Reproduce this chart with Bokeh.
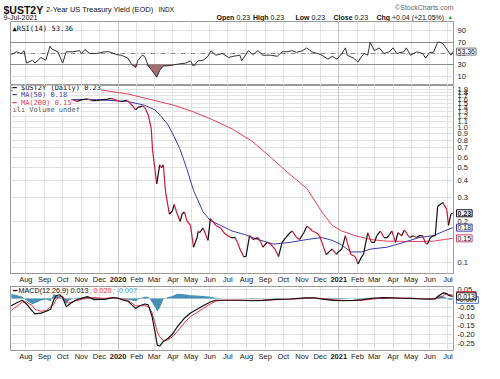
import pandas as pd
from bokeh.plotting import figure
from bokeh.layouts import column, row
from bokeh.models import (Range1d, FixedTicker, Grid, Label, ColumnDataSource, DatetimeAxis)
from bokeh.core.properties import value
from bokeh.embed import file_html
from bokeh.resources import INLINE

# ---------------- data ----------------
price_dates = ["2019-07-08","2019-07-15","2019-07-24","2019-08-02","2019-08-12","2019-08-19","2019-08-28",
 "2019-09-06","2019-09-13","2019-09-23","2019-09-27","2019-10-03","2019-10-09","2019-10-17","2019-10-25",
 "2019-11-01","2019-11-11","2019-11-19","2019-11-26","2019-12-04","2019-12-12","2019-12-20","2019-12-30",
 "2020-01-06","2020-01-14","2020-01-17","2020-01-24","2020-01-30","2020-02-03","2020-02-10","2020-02-14",
 "2020-02-20","2020-02-25","2020-02-27","2020-03-02","2020-03-05","2020-03-10","2020-03-13","2020-03-16",
 "2020-03-18","2020-03-20","2020-03-26","2020-03-31","2020-04-03","2020-04-08","2020-04-13","2020-04-16",
 "2020-04-20","2020-04-24","2020-04-30","2020-05-05","2020-05-11","2020-05-13","2020-05-15","2020-05-21",
 "2020-05-26","2020-05-29","2020-06-02","2020-06-05","2020-06-11","2020-06-19","2020-06-26","2020-07-06",
 "2020-07-13","2020-07-17","2020-07-21","2020-07-27","2020-07-31","2020-08-06","2020-08-12","2020-08-20",
 "2020-08-25","2020-08-28","2020-09-04","2020-09-10","2020-09-17","2020-09-23","2020-09-29","2020-10-05",
 "2020-10-12","2020-10-16","2020-10-23","2020-10-28","2020-11-04","2020-11-09","2020-11-13","2020-11-18",
 "2020-11-25","2020-11-30","2020-12-04","2020-12-11","2020-12-16","2020-12-21","2020-12-28","2020-12-31",
 "2021-01-06","2021-01-12","2021-01-15","2021-01-21","2021-01-28","2021-02-02","2021-02-08","2021-02-11",
 "2021-02-18","2021-02-24","2021-03-01","2021-03-05","2021-03-11","2021-03-17","2021-03-22","2021-03-26",
 "2021-03-30","2021-04-05","2021-04-09","2021-04-15","2021-04-20","2021-04-26","2021-04-29","2021-05-04",
 "2021-05-10","2021-05-14","2021-05-20","2021-05-25","2021-05-28","2021-06-02","2021-06-07","2021-06-10",
 "2021-06-14","2021-06-18","2021-06-23","2021-06-25","2021-06-29","2021-07-02","2021-07-06","2021-07-09"]
price_vals = [1.87,1.82,1.84,1.72,1.62,1.55,1.50,
 1.56,1.78,1.70,1.63,1.38,1.53,1.60,1.55,
 1.59,1.62,1.57,1.57,1.59,1.60,1.63,1.58,
 1.54,1.58,1.56,1.45,1.34,1.40,1.43,1.40,
 1.23,0.97,0.68,0.49,0.38,0.525,0.50,0.525,
 0.40,0.324,0.227,0.239,0.267,0.227,0.200,0.227,
 0.235,0.203,0.187,0.129,0.152,0.170,0.165,0.179,
 0.157,0.145,0.210,0.203,0.187,0.179,0.162,0.152,
 0.152,0.140,0.125,0.110,0.110,0.157,0.147,0.152,
 0.140,0.129,0.140,0.136,0.125,0.110,0.140,0.152,
 0.165,0.170,0.152,0.147,0.165,0.184,0.179,0.170,
 0.165,0.157,0.140,0.114,0.119,0.125,0.114,0.119,
 0.125,0.157,0.140,0.114,0.110,0.097,0.110,0.114,
 0.165,0.140,0.140,0.157,0.170,0.152,0.152,0.160,
 0.170,0.140,0.165,0.157,0.173,0.157,0.152,0.157,
 0.152,0.157,0.157,0.138,0.136,0.152,0.157,0.157,
 0.259,0.267,0.276,0.263,0.246,0.187,0.227,0.23]

ma50_dates = ["2019-07-08","2019-08-01","2019-08-28","2019-09-27","2019-11-26","2020-01-17","2020-02-14",
 "2020-03-02","2020-03-13","2020-03-23","2020-04-03","2020-04-13","2020-04-24","2020-05-05","2020-05-21",
 "2020-06-02","2020-06-19","2020-07-08","2020-07-29","2020-08-20","2020-09-15","2020-10-12","2020-11-09",
 "2020-12-04","2020-12-21","2021-01-06","2021-01-21","2021-02-08","2021-02-23","2021-03-22","2021-04-19",
 "2021-05-14","2021-06-07","2021-06-25","2021-07-09"]
ma50_vals = [1.95,1.88,1.70,1.60,1.595,1.545,1.45,
 1.34,1.19,1.05,0.85,0.68,0.49,0.34,0.235,
 0.203,0.187,0.170,0.160,0.147,0.136,0.140,0.147,
 0.152,0.145,0.134,0.119,0.119,0.125,0.129,0.140,
 0.152,0.157,0.170,0.18]

ma200_dates = ["2019-07-08","2019-08-15","2019-10-09","2019-11-26","2020-01-17","2020-03-02","2020-04-03",
 "2020-05-05","2020-06-05","2020-07-08","2020-08-10","2020-09-10","2020-10-08","2020-11-09","2020-12-04",
 "2020-12-21","2021-01-06","2021-01-28","2021-02-23","2021-03-22","2021-05-14","2021-06-07","2021-06-25",
 "2021-07-09"]
ma200_vals = [2.30,2.20,2.03,1.905,1.757,1.57,1.448,
 1.294,1.137,0.968,0.786,0.597,0.462,0.351,0.235,
 0.187,0.170,0.157,0.147,0.143,0.142,0.143,0.147,
 0.15]

rsi_dates = ["2019-07-08","2019-07-16","2019-07-24","2019-07-29","2019-08-02","2019-08-12","2019-08-16",
 "2019-08-26","2019-09-03","2019-09-10","2019-09-13","2019-09-23","2019-10-01","2019-10-07","2019-10-17",
 "2019-10-29","2019-11-01","2019-11-07","2019-11-15","2019-11-26","2019-12-09","2019-12-17","2019-12-30",
 "2020-01-06","2020-01-17","2020-01-24","2020-01-30","2020-02-03","2020-02-10","2020-02-14","2020-02-20",
 "2020-02-26","2020-03-05","2020-03-10","2020-03-16","2020-03-23","2020-04-03","2020-04-14","2020-04-22",
 "2020-04-30","2020-05-05","2020-05-13","2020-05-21","2020-05-29","2020-06-03","2020-06-11","2020-06-22",
 "2020-07-02","2020-07-10","2020-07-21","2020-07-24","2020-08-04","2020-08-12","2020-08-20","2020-08-28",
 "2020-09-10","2020-09-21","2020-09-29","2020-10-07","2020-10-15","2020-10-23","2020-11-02","2020-11-09",
 "2020-11-17","2020-11-27","2020-12-04","2020-12-14","2020-12-21","2020-12-29","2021-01-06","2021-01-12",
 "2021-01-15","2021-01-25","2021-02-02","2021-02-08","2021-02-12","2021-02-18","2021-02-22","2021-03-01",
 "2021-03-09","2021-03-17","2021-03-26","2021-04-01","2021-04-07","2021-04-19","2021-04-23","2021-04-30",
 "2021-05-10","2021-05-20","2021-05-25","2021-06-01","2021-06-07","2021-06-14","2021-06-18","2021-06-23",
 "2021-06-29","2021-07-06","2021-07-09"]
rsi_vals = [48,53,50,55,33,38,33,
 43,38,63,58,53,33,53,53,
 55,50,57,50,50,53,53,48,
 47,42,30,25,38,47,45,28,
 20,8,20,28,28,30,32,33,
 37,28,37,38,45,55,47,50,
 43,45,47,37,55,48,55,47,
 47,45,53,53,55,52,55,60,
 53,50,47,40,45,40,50,60,
 47,42,35,45,50,47,70,55,
 60,50,53,60,50,53,60,47,
 53,50,42,52,52,70,70,67,
 58,47,53.36]

macd_dates = ["2019-07-08","2019-07-16","2019-07-26","2019-08-02","2019-08-12","2019-08-16","2019-08-26",
 "2019-09-04","2019-09-11","2019-09-16","2019-09-20","2019-09-26","2019-10-01","2019-10-07","2019-10-11",
 "2019-10-22","2019-11-01","2019-11-11","2019-11-22","2019-12-09","2019-12-24","2020-01-02","2020-01-10",
 "2020-01-17","2020-01-30","2020-02-06","2020-02-14","2020-02-20","2020-02-26","2020-03-02","2020-03-06",
 "2020-03-10","2020-03-16","2020-03-23","2020-03-31","2020-04-08","2020-04-20","2020-04-30","2020-05-11",
 "2020-05-21","2020-06-02","2020-06-11","2020-06-22","2020-07-08","2020-07-24","2020-08-10","2020-08-28",
 "2020-09-18","2020-10-12","2020-11-05","2020-11-20","2020-12-08","2020-12-23","2021-01-08","2021-01-25",
 "2021-02-10","2021-02-26","2021-03-15","2021-03-30","2021-04-15","2021-04-30","2021-05-17","2021-06-02",
 "2021-06-10","2021-06-15","2021-06-21","2021-06-24","2021-06-29","2021-07-02","2021-07-09"]
macd_vals = [-0.040,-0.025,-0.009,-0.030,-0.071,-0.086,-0.081,
 -0.071,-0.060,-0.009,0.016,0.022,0.006,-0.045,-0.035,
 -0.009,0.001,0.011,-0.004,-0.004,0.006,0.001,-0.009,
 -0.014,-0.055,-0.040,-0.030,-0.035,-0.096,-0.183,-0.261,
 -0.266,-0.240,-0.225,-0.200,-0.158,-0.110,-0.081,-0.060,
 -0.040,-0.019,-0.009,-0.009,-0.009,-0.009,-0.012,-0.010,
 -0.004,-0.002,0.004,0.005,-0.004,-0.010,-0.012,-0.010,
 -0.006,0.002,0.006,0.004,0.002,0.001,-0.002,-0.003,
 0.000,0.015,0.028,0.032,0.028,0.018,0.013]
signal_vals = [-0.066,-0.045,-0.019,-0.019,-0.040,-0.060,-0.071,
 -0.066,-0.045,-0.035,-0.004,0.011,0.011,-0.014,-0.025,
 -0.014,-0.004,0.001,0.006,0.001,0.006,0.001,-0.004,
 -0.009,-0.040,-0.040,-0.040,-0.045,-0.076,-0.137,-0.189,
 -0.214,-0.235,-0.232,-0.215,-0.185,-0.135,-0.100,-0.078,
 -0.055,-0.030,-0.014,-0.009,-0.009,-0.009,-0.010,-0.009,
 -0.006,-0.004,0.001,0.004,0.000,-0.006,-0.010,-0.011,
 -0.009,-0.003,0.003,0.004,0.003,0.002,0.000,-0.002,
 -0.002,0.002,0.010,0.020,0.025,0.024,0.020]

month_ticks = ["2019-08-01","2019-09-01","2019-10-01","2019-11-01","2019-12-01","2020-01-01","2020-02-01",
 "2020-03-01","2020-04-01","2020-05-01","2020-06-01","2020-07-01","2020-08-01","2020-09-01","2020-10-01",
 "2020-11-01","2020-12-01","2021-01-01","2021-02-01","2021-03-01","2021-04-01","2021-05-01","2021-06-01",
 "2021-07-01"]
month_labels = ["Aug","Sep","Oct","Nov","Dec","2020","Feb","Mar","Apr","May","Jun","Jul","Aug","Sep","Oct",
 "Nov","Dec","2021","Feb","Mar","Apr","May","Jun","Jul"]
price_ticks = [0.1,0.2,0.3,0.4,0.5,0.6,0.7,0.8,0.9,1.0,1.1,1.2,1.3,1.4,1.5,1.6,1.7,1.8,1.9]
rsi_ticks = [10,30,50,70,90]
macd_ticks = [0.05,0.0,-0.05,-0.10,-0.15,-0.20,-0.25]

last_close, last_ma50, last_ma200 = 0.23, 0.18, 0.15
last_rsi = 53.36
last_macd, last_signal, last_hist = 0.013, 0.020, -0.007
x_start, x_end = "2019-07-06 12:00", "2021-07-10 06:00"

# ---------------- layout ----------------
W, FW, LB, RBM = 484, 443, 10, 1
MW = FW + LB + RBM          # main panel figure width
LW = W - MW                 # right label column width
GRID_M, GRID_Y, OUTLINE = "#e3e3e3", "#c6c6c6", "#9a9a9a"
AX_FONT = "Liberation Sans"
RED, BLUE, PINK, TEAL = "#d1163c", "#3a3aa8", "#e8405c", "#3a8ab2"


def ms(d):
    return pd.Timestamp(d).value / 1e6


month_ms = [ms(d) for d in month_ticks]
year_idx = [i for i, l in enumerate(month_labels) if l.isdigit()]
year_ms = [month_ms[i] for i in year_idx]
month_over = {m: ("" if l.isdigit() else l) for m, l in zip(month_ms, month_labels)}
year_over = {month_ms[i]: month_labels[i] for i in year_idx}

xr = Range1d(start=pd.Timestamp(x_start), end=pd.Timestamp(x_end))


def style_axis(ax, standoff=1, bold=False):
    ax.axis_line_color = None
    ax.major_tick_line_color = None
    ax.minor_tick_line_color = None
    ax.major_tick_in = 0
    ax.major_tick_out = 0
    ax.minor_tick_in = 0
    ax.minor_tick_out = 0
    ax.major_label_text_font_size = "7.5px"
    ax.major_label_text_font = AX_FONT
    ax.major_label_text_color = "#222222"
    ax.major_label_standoff = standoff
    if bold:
        ax.major_label_text_font_style = "bold"


def make_fig(height, y_range, grid_ticks, y_type="linear", bottom=0):
    p = figure(width=MW, height=height, x_range=xr, y_range=y_range,
               x_axis_type="datetime", y_axis_type=y_type,
               x_axis_location="below" if bottom else None, y_axis_location=None,
               toolbar_location=None, output_backend="svg",
               min_border_left=LB, min_border_right=RBM, min_border_top=0, min_border_bottom=bottom,
               outline_line_color=OUTLINE, background_fill_color="white", border_fill_color="white")
    p.xgrid.ticker = FixedTicker(ticks=month_ms)
    p.xgrid.grid_line_color = GRID_M
    p.add_layout(Grid(dimension=0, ticker=FixedTicker(ticks=year_ms), grid_line_color=GRID_Y))
    p.ygrid.ticker = FixedTicker(ticks=grid_ticks)
    p.ygrid.grid_line_color = GRID_M
    if bottom:
        p.xaxis.ticker = FixedTicker(ticks=month_ms)
        p.xaxis.major_label_overrides = month_over
        style_axis(p.xaxis[0], 1)
        yax = DatetimeAxis(ticker=FixedTicker(ticks=year_ms), major_label_overrides=year_over)
        style_axis(yax, -10, bold=True)
        p.add_layout(yax, "below")
    return p


def label_fig(height, y_range, ticks, fmt, y_type="linear", bottom=0):
    q = figure(width=LW, height=height, x_range=Range1d(0, LW), y_range=y_range, y_axis_type=y_type,
               x_axis_location=None, y_axis_location=None, toolbar_location=None,
               output_backend="svg", min_border_left=0, min_border_right=0, min_border_top=0,
               min_border_bottom=bottom, outline_line_color=None)
    q.grid.visible = False
    q.text(x=[3] * len(ticks), y=ticks, text=[fmt % t for t in ticks], text_font=value(AX_FONT),
           text_font_size="7.5px", text_baseline="middle", text_align="left", text_color="#222222")
    return q


def callout(q, yv, text, color, bold=False):
    q.add_layout(Label(x=2, x_units="screen", y=yv, text=text, text_font=AX_FONT,
                       text_font_size="7px", text_baseline="middle", text_align="left",
                       text_color="#111111", text_font_style="bold" if bold else "normal",
                       background_fill_color="white", border_line_color=color, padding=1))


def tlabel(p, x, y, text, size, color="#111111", font=AX_FONT, bold=False, align="left",
           baseline="alphabetic", bg=None):
    p.add_layout(Label(x=x, y=y, x_units="screen", y_units="screen", text=text, text_font=font,
                       text_font_size=f"{size}px", text_color=color,
                       text_font_style="bold" if bold else "normal", text_align=align,
                       text_baseline=baseline, background_fill_color=bg))


# ---------------- header ----------------
HH = 21
head = figure(width=W, height=HH, x_range=Range1d(0, W), y_range=Range1d(0, HH),
              x_axis_location=None, y_axis_location=None, toolbar_location=None,
              output_backend="svg", min_border=0, outline_line_color=None)
head.grid.visible = False
tlabel(head, 3, 12, "$UST2Y", 10.5, bold=True)
tlabel(head, 45.5, 12, "2-Year US Treasury Yield (EOD)", 7.5)
tlabel(head, 158, 12, "INDX", 6.5)
tlabel(head, 453, 14, "\u00a9StockCharts.com", 7, color="#666666", align="right")
tlabel(head, 3, 4.5, "9-Jul-2021", 7.2)
pieces = [(216, "Open", True), (236, "0.23", False), (252.5, "High", True), (270, "0.23", False),
          (295, "Low", True), (311, "0.23", False), (333, "Close", True), (354, "0.23", False),
          (376, "Chg", True), (391.5, "+0.04 (+21.05%)", False)]
for x, t, b in pieces:
    tlabel(head, x, 4.5, t, 7, bold=b)
tlabel(head, 447, 5, "\u25b2", 5.5, color="#2a9a2a")

# ---------------- RSI ----------------
RSI_H = 64
rsi_yr = Range1d(-6.7, 106.7)
rsi = make_fig(RSI_H, rsi_yr, [10, 90])
rsi.add_layout(Grid(dimension=1, ticker=FixedTicker(ticks=[30, 70]), grid_line_color="#8c8c8c"))
rsi.add_layout(Grid(dimension=1, ticker=FixedTicker(ticks=[50]), grid_line_color="#8c8c8c",
                    grid_line_dash="5 2 1 2"))
rsi_dt = pd.to_datetime(rsi_dates)
rsi_src = ColumnDataSource(dict(x=rsi_dt, y=rsi_vals, lo=[min(v, 30) for v in rsi_vals],
                                th=[30] * len(rsi_vals)))
rsi.varea(x="x", y1="lo", y2="th", source=rsi_src, fill_color="#a66e6e")
rsi.line(x="x", y="y", source=rsi_src, line_color="#333333", line_width=1)
tlabel(rsi, 2, RSI_H - 2, "\u25b2RSI(14) 53.36", 7.2, font="DejaVu Sans Mono", baseline="top")
rsi_lab = label_fig(RSI_H, rsi_yr, rsi_ticks, "%d")
callout(rsi_lab, last_rsi, f"{last_rsi:.2f}", "#777777")

# ---------------- price ----------------
PH, PB = 201, 10
PFH = PH - PB
price_yr = Range1d(0.0824, 2.03)
price = make_fig(PH, price_yr, price_ticks, y_type="log", bottom=PB)
price.line(x=pd.to_datetime(ma200_dates), y=ma200_vals, line_color=PINK, line_width=1)
price.line(x=pd.to_datetime(ma50_dates), y=ma50_vals, line_color=BLUE, line_width=1)
pdt = pd.to_datetime(price_dates)
seg = ColumnDataSource(dict(x0=pdt[:-1], x1=pdt[1:], y0=price_vals[:-1], y1=price_vals[1:],
                            c=["#111111" if b >= a else RED for a, b in zip(price_vals[:-1], price_vals[1:])]))
price.segment(x0="x0", y0="y0", x1="x1", y1="y1", color="c", line_width=1.2, source=seg)
leg = [("\u2501 $UST2Y (Daily) 0.23", "#111111"), ("\u2501 MA(50) 0.18", BLUE),
       ("\u2501 MA(200) 0.15", PINK), ("\u0131l\u0131 Volume undef", "#555555")]
for i, (t, c) in enumerate(leg):
    tlabel(price, 2, PFH - 1 - 7.5 * i, t, 7.0, color=c, font="DejaVu Sans Mono", baseline="top", bg="white")
price_lab = label_fig(PH, price_yr, price_ticks, "%.1f", y_type="log", bottom=PB)
callout(price_lab, last_ma200, f"{last_ma200:.2f}", PINK)
callout(price_lab, last_ma50, f"{last_ma50:.2f}", BLUE)
callout(price_lab, last_close, f"{last_close:.2f}", "#111111", bold=True)

# ---------------- MACD ----------------
MH, MB = 77, 11
MFH = MH - MB
macd_yr = Range1d(-0.291, 0.068)
macd = make_fig(MH, macd_yr, macd_ticks, bottom=MB)
mdt = pd.to_datetime(macd_dates)
hist = [m - s for m, s in zip(macd_vals, signal_vals)]
msrc = ColumnDataSource(dict(x=mdt, m=macd_vals, s=signal_vals, h=hist, z=[0] * len(hist)))
macd.varea(x="x", y1="z", y2="h", source=msrc, fill_color=TEAL, fill_alpha=0.95)
macd.line(x="x", y="s", source=msrc, line_color="#ee3344", line_width=1)
macd.line(x="x", y="m", source=msrc, line_color="#111111", line_width=1.2)
tlabel(macd, 2, MFH - 1, "\u2501 MACD(12,26,9) 0.013", 7.2, baseline="top")
tlabel(macd, 79, MFH - 1, ", 0.020", 7.2, color="#ee3344", baseline="top")
tlabel(macd, 102, MFH - 1, ", -0.007", 7.2, color="#4aa3d6", baseline="top")
macd_lab = label_fig(MH, macd_yr, macd_ticks, "%.2f", bottom=MB)
callout(macd_lab, last_hist, f"{last_hist:.3f}", "#4a7ad6")
callout(macd_lab, last_signal, f"{last_signal:.3f}", "#ee3344")
callout(macd_lab, last_macd, f"{last_macd:.3f}", "#111111")

p = column(head, row(rsi, rsi_lab, spacing=0), row(price, price_lab, spacing=0),
           row(macd, macd_lab, spacing=0), spacing=0)
open("out.html", "w").write(file_html(p, INLINE))
